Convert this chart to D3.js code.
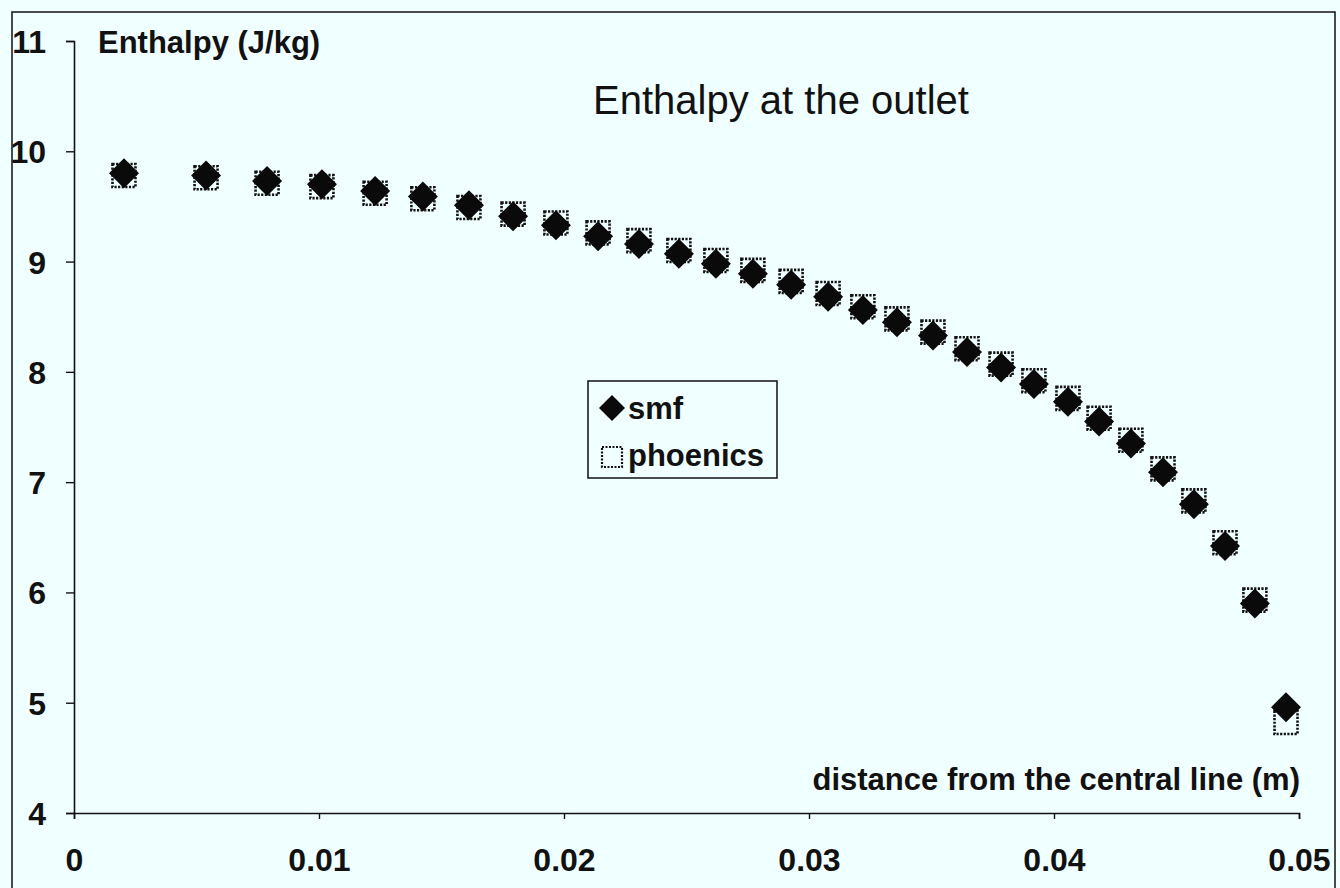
<!DOCTYPE html>
<html>
<head>
<meta charset="utf-8">
<script src="https://cdn.jsdelivr.net/npm/d3@7"></script>
<style>
  html, body { margin: 0; padding: 0; background: #f0ffff; }
  svg { display: block; }
  text { font-family: "Liberation Sans", Arial, Helvetica, sans-serif; fill: #111; }
</style>
</head>
<body>
<svg id="chart" width="1340" height="888"></svg>
<script>
// ---- data ----
const distance = [0.00204, 0.00539, 0.00788, 0.01012, 0.01229, 0.01424, 0.01612, 0.01792, 0.01967, 0.02139,
                  0.02306, 0.02469, 0.02620, 0.02771, 0.02927, 0.03078, 0.03220, 0.03359, 0.03506, 0.03645,
                  0.03784, 0.03918, 0.04057, 0.04184, 0.04314, 0.04445, 0.04571, 0.04698, 0.04820, 0.04947];
const smf      = [9.80, 9.78, 9.73, 9.70, 9.64, 9.59, 9.51, 9.41, 9.33, 9.23,
                  9.16, 9.07, 8.98, 8.89, 8.79, 8.68, 8.56, 8.45, 8.33, 8.18,
                  8.04, 7.89, 7.73, 7.55, 7.35, 7.09, 6.80, 6.42, 5.90, 4.96];
const phoenics = [9.78, 9.76, 9.71, 9.68, 9.62, 9.57, 9.49, 9.43, 9.35, 9.26,
                  9.19, 9.10, 9.01, 8.92, 8.82, 8.71, 8.59, 8.48, 8.36, 8.21,
                  8.07, 7.92, 7.76, 7.58, 7.38, 7.12, 6.83, 6.45, 5.93, 4.82];
const xTicks = [0, 0.01, 0.02, 0.03, 0.04, 0.05];
const xTickLabels = ["0", "0.01", "0.02", "0.03", "0.04", "0.05"];
const yTicks = [4, 5, 6, 7, 8, 9, 10, 11];
const seriesNames = ["smf", "phoenics"];
const chartTitle = "Enthalpy at the outlet";
const yTitle = "Enthalpy (J/kg)";
const xTitle = "distance from the central line (m)";

// ---- layout ----
const svg = d3.select("#chart");
const x = d3.scaleLinear().domain([0, 0.05]).range([74, 1299]);
const y = d3.scaleLinear().domain([4, 11]).range([813, 41]);

// outer frame
svg.append("rect").attr("x", 12).attr("y", 12).attr("width", 1323).attr("height", 900)
  .attr("fill", "none").attr("stroke", "#111").attr("stroke-width", 1.5);

// axes
const xAxis = svg.append("g").attr("transform", `translate(0,${y(4)})`)
  .call(d3.axisBottom(x).tickValues(xTicks).tickFormat((d, i) => xTickLabels[i]).tickSize(6).tickPadding(29));
const yAxis = svg.append("g").attr("transform", `translate(${x(0)},0)`)
  .call(d3.axisLeft(y).tickValues(yTicks).tickFormat(d3.format("d")).tickSize(8).tickPadding(20));
[xAxis, yAxis].forEach(g => {
  g.select(".domain").attr("stroke", "#111").attr("stroke-width", 1.6);
  g.selectAll(".tick line").attr("stroke", "#111").attr("stroke-width", 1.4);
  g.selectAll(".tick text").style("font-size", "32px").style("font-weight", "bold")
    .style("font-family", '"Liberation Sans", Arial, sans-serif').attr("fill", "#111");
});
yAxis.selectAll(".tick text").attr("dy", "0.36em");

// titles
svg.append("text").attr("x", 98).attr("y", 53).text(yTitle)
  .style("font-size", "31px").style("font-weight", "bold");
svg.append("text").attr("x", 1300).attr("y", 790).attr("text-anchor", "end").text(xTitle)
  .style("font-size", "31px").style("font-weight", "bold");
svg.append("text").attr("x", 781).attr("y", 114).attr("text-anchor", "middle").text(chartTitle)
  .style("font-size", "40px");

// markers
const sq = 23, dh = 15;
const diamondPath = (cx, cy, h) => `M${cx},${cy - h}L${cx + h},${cy}L${cx},${cy + h}L${cx - h},${cy}Z`;

svg.append("g").selectAll("rect").data(distance.map((d, i) => [d, phoenics[i]])).join("rect")
  .attr("x", d => x(d[0]) - sq / 2).attr("y", d => y(d[1]) - sq / 2)
  .attr("width", sq).attr("height", sq)
  .attr("fill", "none").attr("stroke", "#111").attr("stroke-width", 2.6)
  .attr("stroke-dasharray", "2.2,1.4");

svg.append("g").selectAll("path").data(distance.map((d, i) => [d, smf[i]])).join("path")
  .attr("d", d => diamondPath(x(d[0]), y(d[1]), dh))
  .attr("fill", "#0a0a0a");

// legend
const lg = svg.append("g");
lg.append("rect").attr("x", 588).attr("y", 381).attr("width", 189).attr("height", 97)
  .attr("fill", "#f0ffff").attr("stroke", "#111").attr("stroke-width", 1.5);
lg.append("path").attr("d", diamondPath(612, 408, 13)).attr("fill", "#0a0a0a");
lg.append("text").attr("x", 628).attr("y", 419).text(seriesNames[0])
  .style("font-size", "31px").style("font-weight", "bold");
lg.append("rect").attr("x", 602).attr("y", 447).attr("width", 20).attr("height", 20)
  .attr("fill", "none").attr("stroke", "#111").attr("stroke-width", 2.2).attr("stroke-dasharray", "2,1.5");
lg.append("text").attr("x", 628).attr("y", 466).text(seriesNames[1])
  .style("font-size", "31px").style("font-weight", "bold");
</script>
</body>
</html>
